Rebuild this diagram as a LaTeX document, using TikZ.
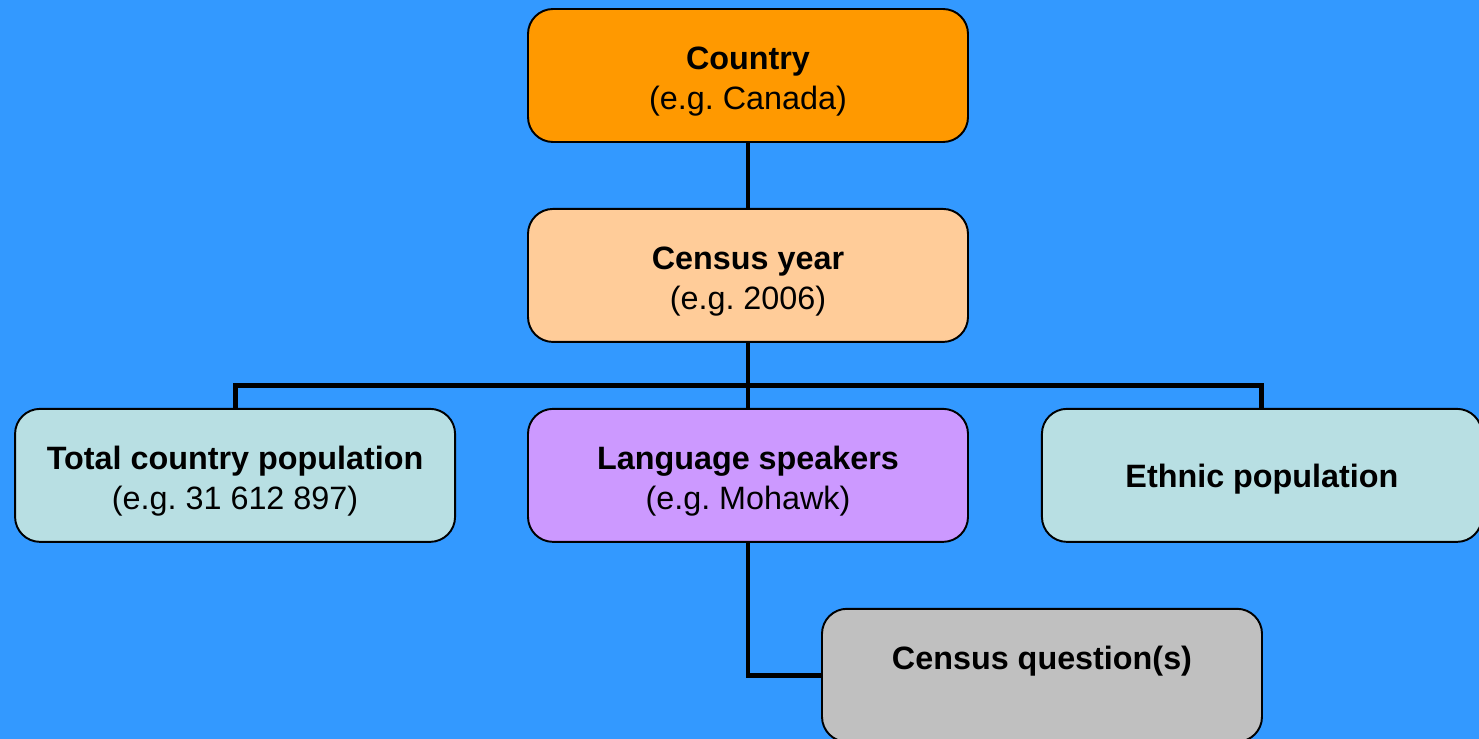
\documentclass[tikz,border=0pt]{standalone}
\usepackage{fontspec}
\setmainfont{Liberation Sans}
\usepackage{xcolor}
\usetikzlibrary{positioning}
\frenchspacing

\definecolor{skyblue}{HTML}{3399FF}
\definecolor{countryorange}{HTML}{FF9900}
\definecolor{yearpeach}{HTML}{FFCC99}
\definecolor{popcyan}{HTML}{B8DFE3}
\definecolor{langviolet}{HTML}{CC99FF}
\definecolor{questiongrey}{HTML}{C0C0C0}

\begin{document}
\begin{tikzpicture}[
  level/.style={rectangle,draw=black,line width=1.1pt,rounded corners=0.5cm,align=center,
    minimum width=8.8cm,minimum height=2.66cm,inner sep=0pt,
    font=\fontsize{18.4}{22.7}\selectfont},
  twoline/.style={text height=42.6pt,text depth=4pt},
  oneline/.style={text height=13.6pt,text depth=0pt},
  highline/.style={text height=10pt,text depth=16.8pt},
  link/.style={draw=black,line width=2.8pt},
  node distance=1.30cm
]

% background and page size
\fill[skyblue] (0,0) rectangle (29.58,-14.78);
\useasboundingbox (0,0) rectangle (29.58,-14.78);

\node[level,twoline,fill=countryorange] (country) at (14.96,-1.51) {\textbf{Country}\\(e.g. Canada)};
\node[level,twoline,fill=yearpeach,below=of country] (year) {\textbf{Census year}\\(e.g. 2006)};
\node[level,twoline,fill=langviolet,below=of year] (lang) {\textbf{Language speakers}\\(e.g. Mohawk)};
\node[level,twoline,fill=popcyan,left=1.42cm of lang] (total) {\textbf{Total country population}\\(e.g. 31 612 897)};
\node[level,oneline,fill=popcyan,right=1.44cm of lang] (ethnic) {\textbf{Ethnic population}};
\node[level,highline,fill=questiongrey,below=of lang,xshift=5.88cm] (question) {\textbf{Census question(s)}};

% connectors
\coordinate (bus) at ([yshift=-0.86cm]year.south);
\draw[link] (country.south) -- (year.north);
\draw[link] (year.south) -- (lang.north);
\draw[link] (total.north) |- (bus) -| (ethnic.north);
\draw[link] (lang.south) |- (question.west);

\end{tikzpicture}
\end{document}
